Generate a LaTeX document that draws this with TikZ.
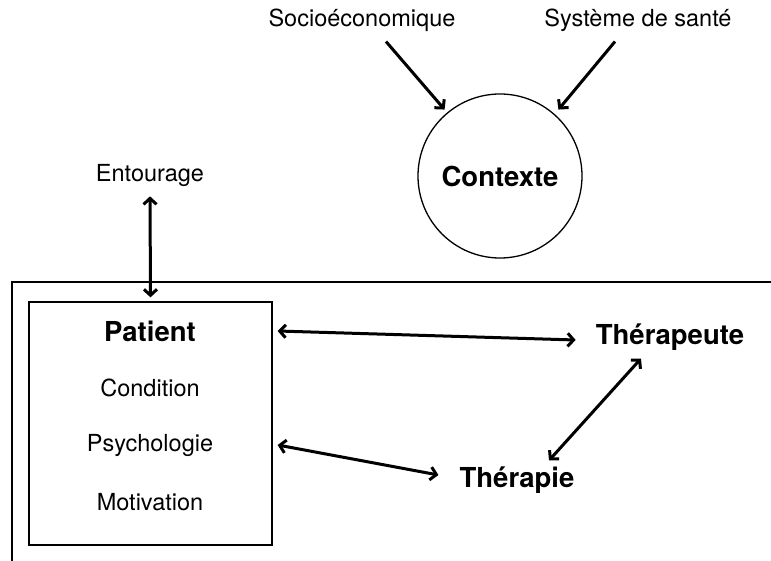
\documentclass[tikz,border=0pt]{standalone}
\usepackage{fontspec}
\setmainfont{TeX Gyre Heros}
\usetikzlibrary{arrows.meta}
\begin{document}
\begin{tikzpicture}[x=1pt,y=-1pt,
  tip/.tip={Straight Barb[length=6pt,width=13pt,line width=3pt]},
  arr/.style={line width=3pt,tip-tip},
  arrone/.style={line width=3pt,-tip},
  lbl/.style={inner sep=0pt,font=\fontsize{23.5}{26}\selectfont},
  blbl/.style={inner sep=0pt,font=\fontsize{27.5}{30}\selectfont\bfseries},
  frame/.style={line width=1.3pt}]
\useasboundingbox (0,0) rectangle (771,561);
\draw[frame] (12,561) -- (12,282) -- (771,282);
\node[draw,frame,minimum width=243pt,minimum height=243pt,inner sep=0pt] (box) at (150.5,423.5) {};
\node[blbl] (patient) at (150,331) {Patient};
\node[lbl] (cond) at (150,388) {Condition};
\node[lbl] (psy) at (150,445) {Psychologie};
\node[lbl] (mot) at (150,502) {Motivation};
\node[lbl] (ent) at (150,175) {Entourage};
\node[lbl] (socio) at (362,20) {Socioéconomique};
\node[lbl] (sante) at (638,20) {Système de santé};
\node[draw,frame,circle,minimum size=164pt,inner sep=0pt] (ctx) at (500,176) {};
\node[blbl] (ctxt) at (ctx) {Contexte};
\node[blbl] (ther) at (670,337) {Thérapeute};
\node[blbl] (thp) at (517,480) {Thérapie};
\draw[arrone] ([xshift=24pt,yshift=-10pt]socio.south) -- ([xshift=3pt,yshift=8pt]ctx.135);
\draw[arrone] ([xshift=-23pt,yshift=-10pt]sante.south) -- ([yshift=8pt]ctx.45);
\draw[arr] ([yshift=-10pt]ent.south) -- ([yshift=4pt]box.north);
\draw[arr] ([xshift=5pt]box.east |- patient) -- ([xshift=-20pt,yshift=-3pt]ther.west);
\draw[arr] ([xshift=5pt]box.east |- psy) -- ([xshift=-21pt,yshift=5pt]thp.west);
\draw[arr] ([xshift=-29pt,yshift=-8pt]ther.south) -- ([xshift=32pt,yshift=6pt]thp.north);
\end{tikzpicture}
\end{document}
